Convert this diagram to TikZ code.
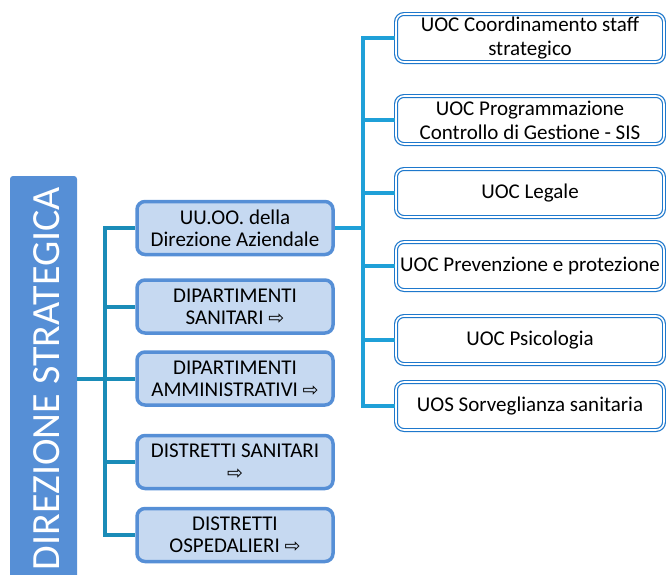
\documentclass[tikz,border=0pt]{standalone}
\usepackage{fontspec}
\setmainfont{Carlito}
\newfontfamily\symfont{DejaVu Sans}
\definecolor{leftblue}{HTML}{568FD6}
\definecolor{midfill}{HTML}{C6D9F1}
\definecolor{tealline}{HTML}{1A8CB8}
\definecolor{skyline}{HTML}{1FA0D8}
\definecolor{rightborder}{HTML}{1E78CC}
\newcommand{\rarr}{{\symfont\fontsize{19}{19}\selectfont ⇨}}
\tikzset{
  headbox/.style={rectangle, rounded corners=3pt, fill=leftblue, text=white, inner sep=0pt},
  midbox/.style={rectangle, rounded corners=8pt, draw=leftblue, line width=3.5pt, fill=midfill,
    minimum width=196pt, minimum height=53pt, align=center, inner sep=1pt,
    font=\fontsize{21}{22}\selectfont},
  rightbox/.style={rectangle, rounded corners=8pt, draw=rightborder, double=white, double distance=1.6pt,
    line width=1.2pt, fill=white, minimum width=268pt, minimum height=48pt, align=center, inner sep=1pt,
    font=\fontsize{21}{23}\selectfont},
  tealconn/.style={draw=tealline, line width=4pt},
  skyconn/.style={draw=skyline, line width=4pt}
}
\begin{document}
\begin{tikzpicture}[x=1pt,y=-1pt]
\useasboundingbox (0,0) rectangle (666,574);
\clip (0,0) rectangle (666,574);
% left head box
\node[headbox, minimum width=67pt, minimum height=410pt] (head) at (43.5,381) {};
\node[rotate=90, text=white, font=\fontsize{40}{40}\selectfont] (headtext) at (47,378.5) {DIREZIONE STRATEGICA};
% middle boxes
\coordinate (lt) at (105,379);
\node[midbox] (m1) at (235,228) {UU.OO. della\\Direzione Aziendale};
\node[midbox] (m2) at (235,306.5) {DIPARTIMENTI\\SANITARI \rarr};
\node[midbox] (m3) at (235,378.5) {DIPARTIMENTI\\AMMINISTRATIVI \rarr};
\node[midbox] (m4) at (235,462) {DISTRETTI SANITARI\\\rarr};
\node[midbox] (m5) at (235,535) {DISTRETTI\\OSPEDALIERI \rarr};
\coordinate (t1) at (105,228);
\coordinate (t5) at (105,535);
% right boxes
\node[rightbox] (r1) at (530,38) {UOC Coordinamento staff\\[1pt]strategico};
\node[rightbox] (r2) at (530,120) {UOC Programmazione\\[1pt]Controllo di Gestione - SIS};
\node[rightbox] (r3) at (530,193) {UOC Legale};
\node[rightbox] (r4) at (530,266) {UOC Prevenzione e protezione};
\node[rightbox] (r5) at (530,340) {UOC Psicologia};
\node[rightbox] (r6) at (530,406) {UOS Sorveglianza sanitaria};
% connectors left
\draw[tealconn] (head.east |- lt) -- (lt);
\draw[tealconn, line cap=rect] (t1) -- (t5);
\foreach \m in {m1,m2,m3,m4,m5}{
  \draw[tealconn] (t1 |- \m.west) -- (\m.west);
}
% connectors right
\coordinate (s1) at (363,38);
\coordinate (s6) at (363,406);
\draw[skyconn] (m1.east) -- (s1 |- m1.east);
\draw[skyconn, line cap=rect] (s1) -- (s6);
\foreach \r in {r1,r2,r3,r4,r5,r6}{
  \draw[skyconn] (s1 |- \r.west) -- (\r.west);
}
\end{tikzpicture}
\end{document}
